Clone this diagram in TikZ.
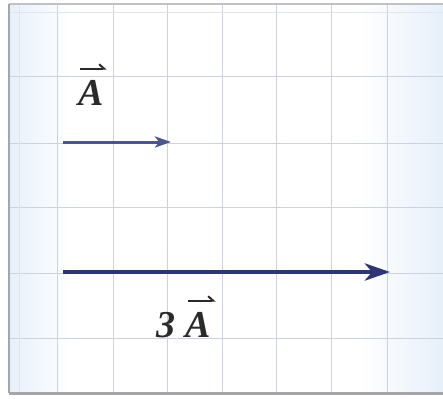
\documentclass[tikz,border=0pt]{standalone}
\usepackage{fontspec}
\setmainfont{Liberation Serif}
\usetikzlibrary{arrows.meta}
\definecolor{gridc}{HTML}{CDD2DD}
\definecolor{framec}{HTML}{A4A6AA}
\definecolor{vecA}{HTML}{4B5592}
\definecolor{vecB}{HTML}{2C3577}
\definecolor{tintc}{HTML}{E6F0FA}
\definecolor{labc}{HTML}{2A2A2A}
\tikzset{
  gridline/.style={draw=gridc, line width=1pt},
  framebord/.style={draw=framec, line width=2.2pt},
  veclab/.style={inner sep=0pt, text=labc, font=\fontsize{38}{38}\selectfont\bfseries\itshape},
  smallvec/.style={draw=vecA, line width=3pt, -{Stealth[length=16pt,width=11pt,inset=4pt]}},
  bigvec/.style={draw=vecB, line width=4.8pt, -{Stealth[length=25pt,width=17pt,inset=7pt]}},
  overarr/.style={draw=labc, line width=2pt, -{Straight Barb[harpoon,length=5pt,width=9pt]}}
}
\begin{document}
\begin{tikzpicture}[x=1pt,y=-1pt]
\useasboundingbox (0,0) rectangle (443,398);
% background
\fill[white] (9,4) rectangle (443,393);
\shade[left color=tintc, right color=white] (9,4) rectangle (70,393);
\shade[left color=white, right color=tintc] (360,4) rectangle (443,393);
% grid
\foreach \x in {57,113,167,222,276,331,387} \draw[gridline] (\x,4) -- (\x,393);
\foreach \y in {77,143,207,273,338} \draw[gridline] (9,\y) -- (443,\y);
\draw[gridline, draw=gridc!60] (9,13) -- (443,13);
\draw[gridline, draw=gridc!60] (19,4) -- (19,393);
% frame
\draw[draw=framec!70, line width=2pt] (443,4) -- (9,4);
\draw[framebord] (9,4) -- (9,393);
\draw[draw=framec, line width=3pt] (9,393) -- (443,393);
% vectors
\coordinate (s1) at (63,142);
\coordinate (e1) at (171,142);
\coordinate (s2) at (63,272);
\coordinate (e2) at (390,272);
\draw[smallvec] (s1) -- (e1);
\draw[bigvec] (s2) -- (e2);
% labels
\node[veclab, anchor=base west] (A1) at (78,106) {A};
\node[veclab, anchor=base west] (three) at (156,337) {3};
\node[veclab, anchor=base west] (A2) at (185,337) {A};
\draw[overarr] ([xshift=2pt,yshift=12pt]A1.north west) -- ([xshift=3pt,yshift=12pt]A1.north east);
\draw[overarr] ([xshift=3pt,yshift=11pt]A2.north west) -- ([xshift=5pt,yshift=11pt]A2.north east);
\end{tikzpicture}
\end{document}
